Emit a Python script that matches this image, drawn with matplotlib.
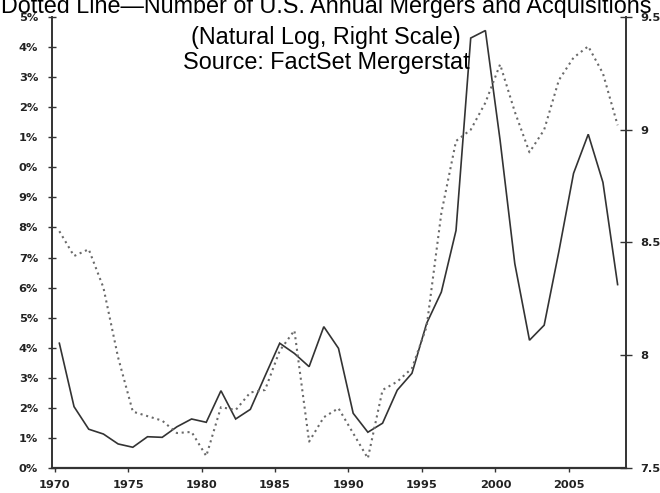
import matplotlib.pyplot as plt

# data
years = list(range(1970, 2009))
pct_solid = [
    4.15, 2.04, 1.29, 1.13, 0.80, 0.69, 1.04, 1.02, 1.37, 1.63,
    1.52, 2.57, 1.63, 1.95, 3.06, 4.15, 3.81, 3.37, 4.70, 3.98,
    1.82, 1.19, 1.49, 2.59, 3.15, 4.81, 5.85, 7.90, 14.30, 14.55,
    10.90, 6.80, 4.25, 4.75, 7.20, 9.80, 11.10, 9.50, 6.10,
]
log_deals = [
    8.55, 8.44, 8.47, 8.30, 7.99, 7.75, 7.73, 7.71, 7.655, 7.66,
    7.553, 7.77, 7.757, 7.835, 7.846, 8.02, 8.11, 7.617, 7.725, 7.765,
    7.654, 7.543, 7.846, 7.883, 7.942, 8.127, 8.63, 8.95, 9.00, 9.12,
    9.29, 9.08, 8.90, 9.00, 9.22, 9.32, 9.37, 9.25, 9.02,
]

left_ticks = list(range(0, 16))
left_labels = ["0%", "1%", "2%", "3%", "4%", "5%", "6%", "7%", "8%", "9%",
               "0%", "1%", "2%", "3%", "4%", "5%"]
right_ticks = [7.5, 8.0, 8.5, 9.0, 9.5]
right_labels = ["7.5", "8", "8.5", "9", "9.5"]
x_tick_years = [1970, 1975, 1980, 1985, 1990, 1995, 2000, 2005]

title_lines = [
    "Dotted Line\u2014Number of U.S. Annual Mergers and Acquisitions",
    "(Natural Log, Right Scale)",
    "Source: FactSet Mergerstat",
]

W, H = 660, 493
fig = plt.figure(figsize=(W / 100, H / 100), dpi=100)
ax = fig.add_axes([52 / W, 25 / H, 574 / W, 451 / H])
ax2 = ax.twinx()

ax.plot(years, pct_solid, color="#333333", linewidth=1.2, solid_joinstyle="miter")
ax2.plot(years, log_deals, color="#6a6a6a", linewidth=1.5, linestyle=(0, (1, 1.8)))

ax.set_xlim(1969.5, 2008.57)
ax.set_ylim(0, 15)
ax2.set_ylim(7.5, 9.5)

tick_font = dict(fontsize=8.2, fontweight="bold", color="#222222", family="DejaVu Sans")
ax.set_xticks([y - 0.32 for y in x_tick_years], [str(y) for y in x_tick_years], **tick_font)
ax.set_yticks(left_ticks, left_labels, **tick_font)
ax2.set_yticks(right_ticks, right_labels, **tick_font)

ax.tick_params(axis="x", direction="out", length=3, width=1, pad=6, color="#333333")
ax.tick_params(axis="y", direction="inout", length=6, width=1, pad=7, color="#333333")
ax2.tick_params(axis="y", direction="inout", length=8, width=1, pad=6, color="#333333")

for a in (ax, ax2):
    a.spines["top"].set_visible(False)
    for side in ("left", "right", "bottom"):
        a.spines[side].set_color("#333333")
        a.spines[side].set_linewidth(1.2)
ax.spines["bottom"].set_linewidth(1.6)

baselines = [12.5, 44, 69]
for line, base in zip(title_lines, baselines):
    fig.text(0.494, 1 - base / H, line, ha="center", va="baseline",
             fontsize=16.8, family="Liberation Sans", color="black")

fig.savefig("out.png", dpi=100)
